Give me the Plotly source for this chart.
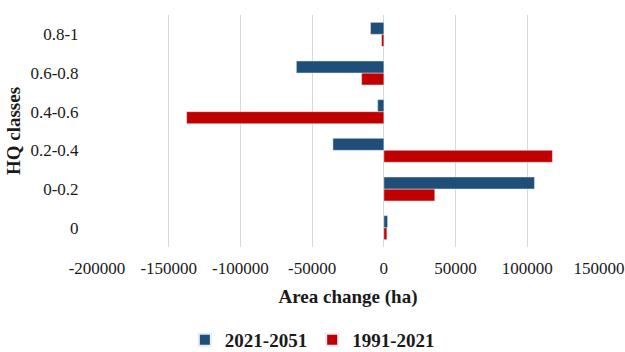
import plotly.graph_objects as go

# HQ classes (bottom to top) and area change per period, in hectares
hq_classes = ["0", "0-0.2", "0.2-0.4", "0.4-0.6", "0.6-0.8", "0.8-1"]
change_2021_2051 = [2600, 105000, -35500, -4300, -61000, -9300]
change_1991_2021 = [2100, 35500, 117500, -137500, -15500, -1600]
x_ticks = [-200000, -150000, -100000, -50000, 0, 50000, 100000, 150000]

BLUE = "#1F4E79"
RED = "#C00000"
FONT = "Liberation Serif, Times New Roman, serif"

fig = go.Figure()
# the first trace sits at the bottom of each group
fig.add_trace(go.Bar(
    y=hq_classes, x=change_1991_2021, orientation="h",
    name="1991-2021", marker_color=RED, legendrank=2,
))
fig.add_trace(go.Bar(
    y=hq_classes, x=change_2021_2051, orientation="h",
    name="2021-2051", marker_color=BLUE, legendrank=1,
))

fig.update_layout(
    width=625, height=352,
    margin=dict(l=97, r=26, t=15, b=105, autoexpand=False),
    paper_bgcolor="white", plot_bgcolor="white",
    barmode="group", bargap=0.38, bargroupgap=0,
    font=dict(family=FONT, size=17, color="#1a1a1a"),
    showlegend=True,
    legend=dict(
        orientation="h",
        x=0.429, xanchor="center", y=-0.40, yanchor="middle",
        font=dict(size=19, family=FONT, weight="bold"),
        traceorder="normal", itemsizing="constant",
    ),
    xaxis=dict(
        range=[-200000, 150000], tickvals=x_ticks,
        ticktext=[str(v) for v in x_ticks], tickangle=0,
        showgrid=True, gridcolor="#D9D9D9", gridwidth=1,
        zeroline=False, showline=False, automargin=False,
        title=dict(text="<b>Area change (ha)</b>", font=dict(size=19), standoff=12),
        ticks="outside", ticklen=6, tickcolor="rgba(0,0,0,0)",
    ),
    yaxis=dict(
        showgrid=False, zeroline=False, showline=False, automargin=False,
        ticks="outside", ticklen=14, tickcolor="rgba(0,0,0,0)",
        title=dict(text="<b>HQ classes</b>", font=dict(size=19), standoff=4),
    ),
)

fig.write_html("out.html")
